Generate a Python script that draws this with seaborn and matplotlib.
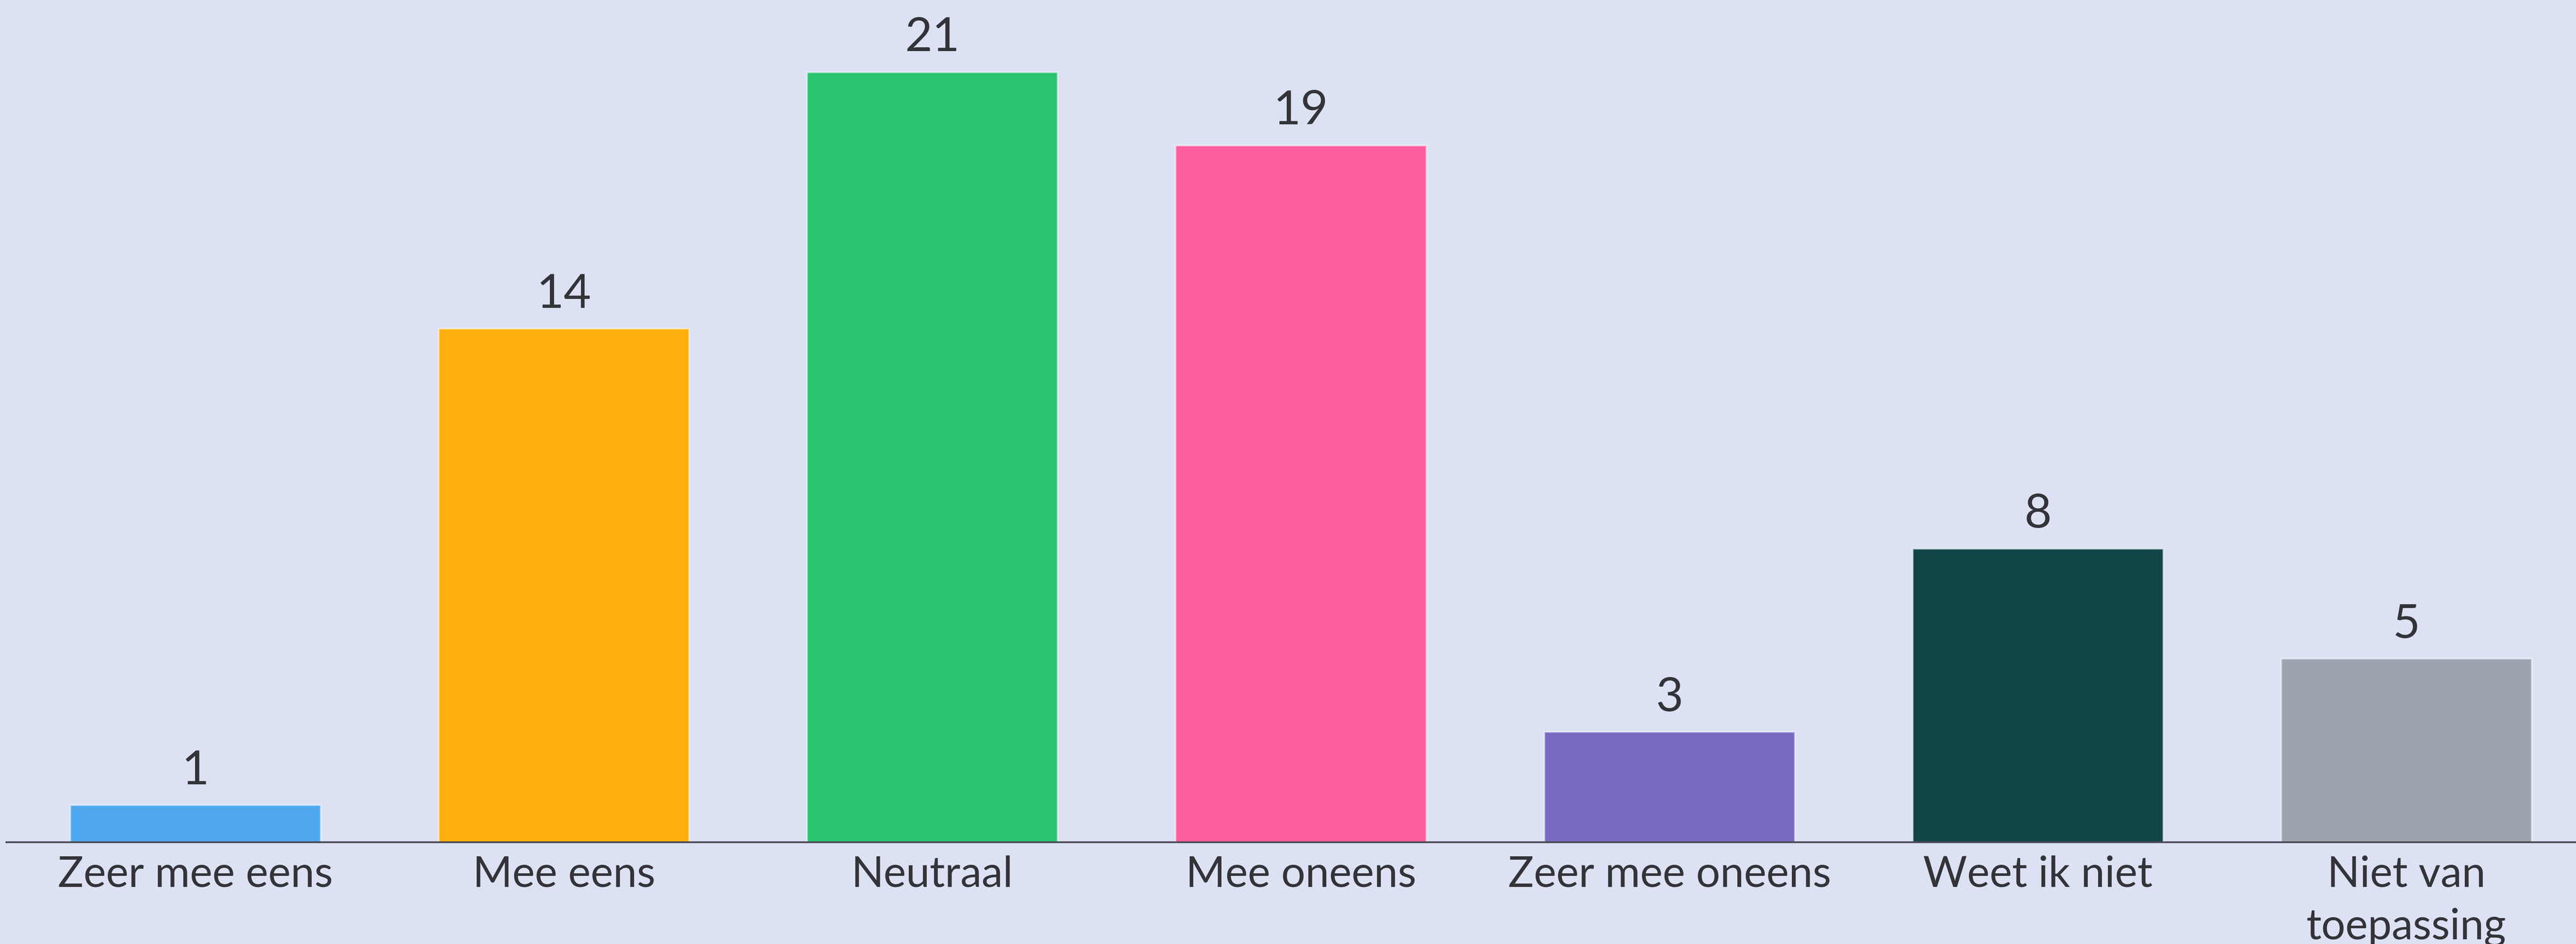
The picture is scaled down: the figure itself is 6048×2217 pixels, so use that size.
import pandas as pd
import matplotlib.pyplot as plt
import seaborn as sns

# answers and counts
categories = ['Zeer mee eens', 'Mee eens', 'Neutraal', 'Mee oneens',
              'Zeer mee oneens', 'Weet ik niet', 'Niet van\ntoepassing']
counts = [1, 14, 21, 19, 3, 8, 5]
bar_colors = ['#4FA8EE', '#FFB00C', '#2AC36F', '#FF5E9E',
              '#786AC0', '#124548', '#9DA3AF']

df = pd.DataFrame({'answer': categories, 'count': counts})

bg = '#DCE2F4'
text_col = '#333338'

sns.set_style('white')
plt.rcParams['font.family'] = ['Lato', 'DejaVu Sans']

fig = plt.figure(figsize=(60.48, 22.17), dpi=100, facecolor=bg)
ax = fig.add_axes([0.0025, 0.108, 0.9975, 0.892])
ax.set_facecolor(bg)

sns.barplot(data=df, x='answer', y='count', hue='answer',
            palette=dict(zip(categories, bar_colors)), legend=False,
            saturation=1, width=0.68, edgecolor=(1, 1, 1, 0.45),
            linewidth=3, ax=ax)

for c in ax.containers:
    ax.bar_label(c, fontsize=80, color=text_col, padding=22)

ax.set_ylim(0, 22.97)
ax.set_xlim(-0.513, 6.46)
ax.set_xlabel('')
ax.set_ylabel('')
ax.set_yticks([])
ax.tick_params(axis='x', length=0, pad=22, labelsize=72, labelcolor=text_col)
for lbl in ax.get_xticklabels():
    lbl.set_linespacing(1.45)

#only the baseline stays
sns.despine(ax=ax, left=True, top=True, right=True)
ax.spines['bottom'].set_color('#4A4A55')
ax.spines['bottom'].set_linewidth(3)

fig.savefig('out.png', dpi=100, facecolor=bg)
